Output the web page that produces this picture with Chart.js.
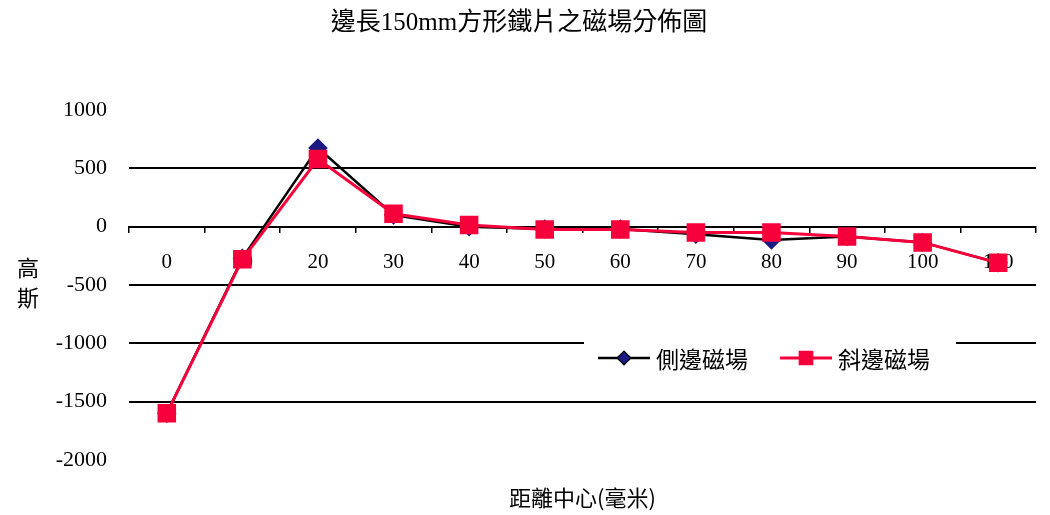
<!DOCTYPE html>
<html>
<head>
<meta charset="utf-8">
<script src="https://cdn.jsdelivr.net/npm/chart.js@4/dist/chart.umd.min.js"></script>
<style>
  body { margin: 0; background: #fff; }
  #wrap { width: 1050px; height: 515px; }
</style>
</head>
<body>
<div id="wrap"><canvas id="myChart"></canvas></div>
<script>
// 距離中心 (毫米)
const distances = ['0', '10', '20', '30', '40', '50', '60', '70', '80', '90', '100', '110'];
// 側邊磁場 (高斯)
const sideField = [-1600, -270, 675, 100, 0, -20, -20, -65, -115, -85, -135, -310];
// 斜邊磁場 (高斯)
const diagField = [-1600, -280, 580, 110, 15, -25, -25, -50, -50, -85, -135, -310];
const yTicks = [1000, 500, 0, -500, -1000, -1500, -2000];
const gridValues = [500, -500, -1000, -1500];

const FONT = "'Liberation Serif', 'Noto Sans CJK TC', serif";
const CJK = "'Noto Sans CJK TC', 'Liberation Serif', sans-serif";
const RED = '#f5003a';

// 高斯 / 距離中心 / 圖例
const extraText = {
    id: 'extraText',
    afterDraw(chart) {
        const ctx = chart.ctx;
        const area = chart.chartArea;
        ctx.save();
        ctx.fillStyle = '#000';
        ctx.font = '22px ' + CJK;
        ctx.textAlign = 'center';
        ctx.textBaseline = 'middle';
        ctx.fillText('高', 28, 268);
        ctx.fillText('斯', 28, 298);
        ctx.fillText('距離中心(毫米)', (area.left + area.right) / 2, 498);

        // legend box
        ctx.fillStyle = '#fff';
        ctx.fillRect(584, 342, 372, 32);
        const items = chart.data.datasets;
        const starts = [598, 780];
        items.forEach((ds, i) => {
            const x0 = starts[i];
            const y = 358;
            ctx.strokeStyle = ds.borderColor;
            ctx.lineWidth = ds.borderWidth;
            ctx.beginPath();
            ctx.moveTo(x0, y);
            ctx.lineTo(x0 + 52, y);
            ctx.stroke();
            Chart.helpers.drawPoint(ctx, {
                pointStyle: ds.pointStyle,
                radius: ds.pointRadius * 0.75,
                rotation: 0,
                borderWidth: 1
            }, x0 + 26, y);
            ctx.fillStyle = ds.pointBackgroundColor;
            ctx.fill();
            ctx.fillStyle = '#000';
            ctx.textAlign = 'left';
            ctx.font = '23px ' + CJK;
            ctx.fillText(ds.label, x0 + 58, y + 1);
        });
        ctx.restore();
    }
};

const ctx = document.getElementById('myChart').getContext('2d');
const myChart = new Chart(ctx, {
    type: 'line',
    data: {
        labels: distances,
        datasets: [
            {
                label: '側邊磁場',
                data: sideField,
                borderColor: '#000',
                borderWidth: 2.5,
                pointStyle: 'rectRot',
                pointRadius: 8,
                pointBackgroundColor: '#1a1a80',
                pointBorderColor: '#1a1a80',
                tension: 0,
                order: 1
            },
            {
                label: '斜邊磁場',
                data: diagField,
                borderColor: RED,
                borderWidth: 3,
                pointStyle: 'rect',
                pointRadius: 11,
                pointBackgroundColor: RED,
                pointBorderColor: RED,
                tension: 0,
                order: 0
            }
        ]
    },
    options: {
        responsive: true,
        maintainAspectRatio: false,
        animation: false,
        layout: { padding: { left: 0, right: 12, top: 0, bottom: 55 } },
        plugins: {
            legend: { display: false },
            tooltip: { enabled: false },
            title: {
                display: true,
                text: '邊長150mm方形鐵片之磁場分佈圖',
                color: '#000',
                font: { family: FONT, size: 25, weight: 'normal' },
                padding: { top: 8, bottom: 72 }
            }
        },
        scales: {
            x: {
                type: 'category',
                position: { y: 0 },
                offset: true,
                grid: {
                    offset: true,
                    drawOnChartArea: false,
                    color: '#000',
                    tickLength: 5,
                    lineWidth: 1.5
                },
                border: { color: '#000', width: 2 },
                ticks: {
                    color: '#000',
                    padding: 18,
                    maxRotation: 0,
                    autoSkip: false,
                    font: { family: FONT, size: 21 }
                }
            },
            y: {
                min: -2000,
                max: 1000,
                afterFit(scale) { scale.width = 129; },
                afterBuildTicks(scale) { scale.ticks = yTicks.map(v => ({ value: v })); },
                border: { display: false },
                grid: {
                    drawTicks: false,
                    lineWidth: 2,
                    color: c => gridValues.includes(c.tick.value) ? '#000' : 'rgba(0,0,0,0)'
                },
                ticks: {
                    color: '#000',
                    padding: 22,
                    callback: v => String(v),
                    font: { family: FONT, size: 22 }
                }
            }
        }
    },
    plugins: [extraText]
});
</script>
</body>
</html>
